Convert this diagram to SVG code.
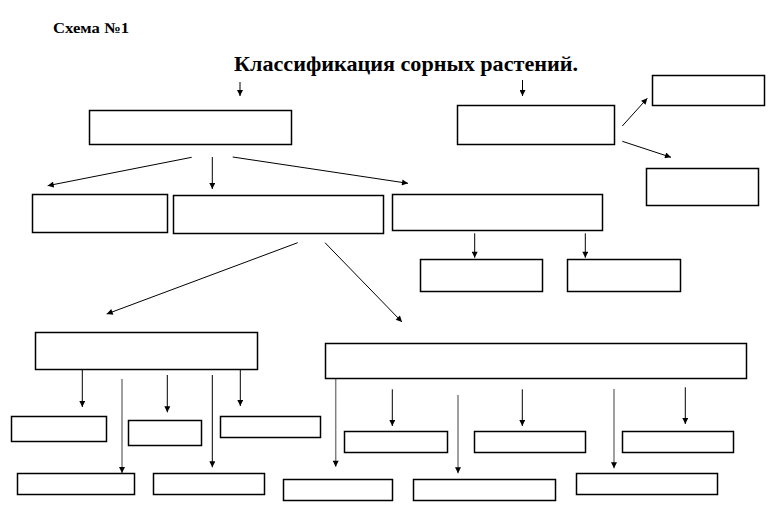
<svg xmlns="http://www.w3.org/2000/svg" width="779" height="530" viewBox="0 0 779 530">
<style>
.b{fill:#fff;stroke:#000;stroke-width:1.5}
.c{fill:none;stroke:#000;stroke-width:1}
.g{fill:none;stroke:#808080;stroke-width:1.5}
.t{font-family:"Liberation Serif","Times New Roman",serif;font-weight:bold;fill:#000}
</style>
<defs>
<marker id="a" viewBox="0 0 10 10" refX="10" refY="5" markerWidth="7" markerHeight="6" markerUnits="userSpaceOnUse" orient="auto"><path d="M0,0L10,5L0,10z" fill="#000"/></marker>
</defs>
<rect width="779" height="530" fill="#fff"/>
<text class="t" x="53" y="33" font-size="15" textLength="76" lengthAdjust="spacingAndGlyphs">Схема №1</text>
<text class="t" x="234" y="71" font-size="21" textLength="344" lengthAdjust="spacingAndGlyphs">Классификация сорных растений.</text>
<g id="connectors">
<line class="c" x1="240" y1="82" x2="240" y2="96" marker-end="url(#a)"/>
<line class="c" x1="522.5" y1="80" x2="522.5" y2="96" marker-end="url(#a)"/>
<line class="c" x1="191.7" y1="157.3" x2="47.7" y2="185.7" marker-end="url(#a)"/>
<line class="c" x1="212.3" y1="157" x2="212.3" y2="189" marker-end="url(#a)"/>
<line class="c" x1="232.7" y1="157" x2="408" y2="183.3" marker-end="url(#a)"/>
<line class="c" x1="622.3" y1="126" x2="647.3" y2="98.3" marker-end="url(#a)"/>
<line class="c" x1="622.3" y1="141.3" x2="671" y2="157.3" marker-end="url(#a)"/>
<line class="c" x1="474.7" y1="233.3" x2="474.7" y2="257.7" marker-end="url(#a)"/>
<line class="c" x1="585.3" y1="233.3" x2="585.3" y2="257.7" marker-end="url(#a)"/>
<line class="c" x1="297.7" y1="242.7" x2="106.7" y2="314" marker-end="url(#a)"/>
<line class="c" x1="325" y1="242.7" x2="402" y2="322" marker-end="url(#a)"/>
<line class="c" x1="82.3" y1="369" x2="82.3" y2="407" marker-end="url(#a)"/>
<line class="g" x1="122" y1="379" x2="122" y2="473" marker-end="url(#a)"/>
<line class="c" x1="167.3" y1="375" x2="167.3" y2="412.3" marker-end="url(#a)"/>
<line class="c" x1="212.3" y1="375" x2="212.3" y2="467.3" marker-end="url(#a)"/>
<line class="c" x1="240.3" y1="369" x2="240.3" y2="406" marker-end="url(#a)"/>
<line class="g" x1="335.7" y1="378" x2="335.7" y2="466.7" marker-end="url(#a)"/>
<line class="c" x1="392.3" y1="389.3" x2="392.3" y2="426" marker-end="url(#a)"/>
<line class="g" x1="458" y1="395" x2="458" y2="473.3" marker-end="url(#a)"/>
<line class="c" x1="522.3" y1="389.3" x2="522.3" y2="426" marker-end="url(#a)"/>
<line class="g" x1="614" y1="389" x2="614" y2="468.3" marker-end="url(#a)"/>
<line class="c" x1="685.3" y1="387.3" x2="685.3" y2="424" marker-end="url(#a)"/>
</g>
<g id="n1"><rect class="b" x="89.5" y="110.5" width="202" height="34"/></g>
<g id="n2"><rect class="b" x="457.5" y="105.5" width="157" height="39"/></g>
<g id="n3"><rect class="b" x="652.5" y="75.5" width="112" height="30"/></g>
<g id="n4"><rect class="b" x="646.5" y="168.5" width="112" height="37"/></g>
<g id="n5"><rect class="b" x="32.5" y="194.5" width="135" height="38"/></g>
<g id="n6"><rect class="b" x="173.5" y="195.5" width="210" height="38"/></g>
<g id="n7"><rect class="b" x="392.5" y="194.5" width="210" height="36"/></g>
<g id="n8"><rect class="b" x="420.5" y="259.5" width="122" height="32"/></g>
<g id="n9"><rect class="b" x="567.5" y="259.5" width="113" height="32"/></g>
<g id="n10"><rect class="b" x="35.5" y="332.5" width="222" height="37"/></g>
<g id="n11"><rect class="b" x="325.5" y="343.5" width="421" height="35"/></g>
<g id="n12"><rect class="b" x="11.5" y="416.5" width="95" height="25"/></g>
<g id="n13"><rect class="b" x="128.5" y="420.5" width="73" height="25"/></g>
<g id="n14"><rect class="b" x="220.5" y="416.5" width="100" height="21"/></g>
<g id="n15"><rect class="b" x="17.5" y="473.5" width="117" height="21"/></g>
<g id="n16"><rect class="b" x="153.5" y="473.5" width="111" height="21"/></g>
<g id="n17"><rect class="b" x="344.5" y="431.5" width="103" height="21"/></g>
<g id="n18"><rect class="b" x="474.5" y="431.5" width="111" height="21"/></g>
<g id="n19"><rect class="b" x="622.5" y="431.5" width="111" height="21"/></g>
<g id="n20"><rect class="b" x="283.5" y="479.5" width="109" height="21"/></g>
<g id="n21"><rect class="b" x="413.5" y="479.5" width="142" height="21"/></g>
<g id="n22"><rect class="b" x="576.5" y="473.5" width="141" height="21"/></g>
</svg>
